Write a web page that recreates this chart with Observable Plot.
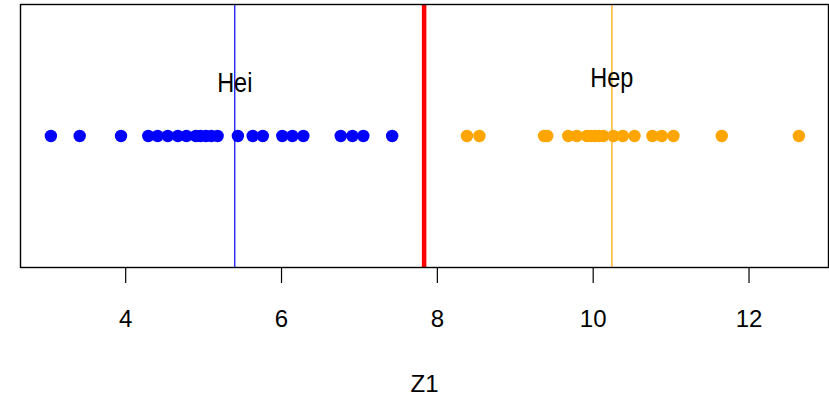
<!DOCTYPE html>
<html>
<head>
<meta charset="utf-8">
<script src="https://cdn.jsdelivr.net/npm/d3@7"></script>
<script src="https://cdn.jsdelivr.net/npm/@observablehq/plot@0.6"></script>
<style>
  html, body { margin: 0; padding: 0; background: #fff; }
  #chart svg { display: block; }
</style>
</head>
<body>
<div id="chart"></div>
<script>
// Values
const heiZ1 = [3.04, 3.41, 3.94, 4.29, 4.41, 4.54, 4.67, 4.78, 4.90, 4.96, 5.03, 5.10, 5.18,
               5.44, 5.63, 5.76, 6.01, 6.14, 6.28, 6.76, 6.91, 7.05, 7.42];
const hepZ1 = [8.38, 8.54, 9.37, 9.41, 9.68, 9.79, 9.92, 9.97, 10.03, 10.08, 10.13, 10.26,
               10.38, 10.53, 10.76, 10.88, 11.03, 11.65, 12.64];
const groupNames = ["Hei", "Hep"];
const groupCenters = [5.40, 10.24];
const groupLabelY = [0.40, 0.44];
const groupColors = ["#0000ff", "#ffa500"];
const threshold = 7.83;
const xTicks = [4, 6, 8, 10, 12];
const xLabel = "Z1";

const font = "'Liberation Sans', Arial, Helvetica, sans-serif";

const labels = groupNames.map((name, i) => ({name, x: groupCenters[i], y: groupLabelY[i]}));

const chart = Plot.plot({
  width: 829,
  height: 404,
  marginLeft: 20,
  marginRight: 1,
  marginTop: 4,
  marginBottom: 137,
  style: {fontFamily: font, background: "#fff", color: "#000"},
  x: {domain: [2.65, 13.02]},
  y: {domain: [-1, 1], axis: null},
  marks: [
    Plot.dot(heiZ1, {x: d => d, y: () => 0, r: 6.2, fill: groupColors[0], stroke: null}),
    Plot.dot(hepZ1, {x: d => d, y: () => 0, r: 6.2, fill: groupColors[1], stroke: null}),
    Plot.ruleX([groupCenters[0]], {stroke: groupColors[0], strokeWidth: 1.2}),
    Plot.ruleX([groupCenters[1]], {stroke: groupColors[1], strokeWidth: 1.2}),
    Plot.ruleX([threshold], {stroke: "#ff0000", strokeWidth: 4.5}),
    Plot.text(labels, {x: "x", y: "y", text: "name", fontSize: 23.5, fill: "#000", lineAnchor: "middle", className: "grp-label"}),
    Plot.frame({stroke: "#000", strokeWidth: 1.4}),
    Plot.axisX({ticks: xTicks, tickSize: 16, tickPadding: 26, fontSize: 24, label: null, stroke: "#000", strokeWidth: 1.2, color: "#000"}),
    Plot.text([xLabel], {frameAnchor: "bottom", dy: 117, fontSize: 24, fill: "#000", lineAnchor: "middle"})
  ]
});
// the reference's group labels are drawn slightly taller than their width suggests
chart.querySelectorAll(".grp-label text").forEach(t => {
  t.setAttribute("transform", (t.getAttribute("transform") || "") + " scale(1,1.18)");
});
document.getElementById("chart").appendChild(chart);
</script>
</body>
</html>
